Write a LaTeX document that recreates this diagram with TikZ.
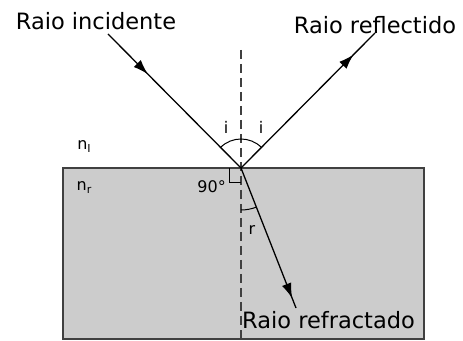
\documentclass[tikz,border=0pt]{standalone}
\usepackage{fontspec}
\setmainfont{DejaVu Sans}
\usepackage{xcolor}
\usepackage{tikz}
\usetikzlibrary{positioning,arrows.meta,calc,decorations.markings}

\definecolor{blockgray}{HTML}{CCCCCC}
\definecolor{edgegray}{HTML}{404040}

\newcommand{\idx}[2]{#1\raisebox{-3pt}{\fontsize{11}{12}\selectfont #2}}

\tikzset{
  ray/.style={line width=1.3pt, black},
  midarrow/.style={postaction={decorate},
    decoration={markings, mark=at position #1 with {\arrow{Latex[length=15pt,width=10pt]}}}},
  normalline/.style={line width=1.3pt, edgegray, dash pattern=on 9pt off 5pt},
  biglabel/.style={font=\fontsize{22.5}{25}\selectfont, inner sep=0pt},
  smalllabel/.style={font=\fontsize{16}{18}\selectfont, inner sep=0pt},
}

\begin{document}
\begin{tikzpicture}[x=1pt, y=1pt]
\useasboundingbox (0,0) rectangle (463,340);

% medium r
\draw[edgegray, line width=1.6pt, fill=blockgray] (63,1) rectangle (424,172);

\coordinate (O) at (241,172);
\coordinate (inc) at (108,306);
\coordinate (refl) at (375,307);
\coordinate (refr) at (296,32);
\coordinate (ntop) at (241,290);
\coordinate (nbot) at (241,1);

\draw[normalline] (ntop) -- (nbot);

\draw[ray, midarrow=0.3] (inc) -- (O);
\draw[ray, midarrow=0.84] (O) -- (refl);
\draw[ray, midarrow=0.93] (O) -- (refr);

% angles
\draw[line width=1pt] ($(O)+(45:29)$) arc[start angle=45, end angle=135, radius=29];
\draw[line width=1pt] ($(O)+(270:42)$) arc[start angle=270, end angle=291, radius=42];
\draw[line width=1pt] (O) ++(-12,0) -- ++(0,-15) -- ++(12,0);

\node[biglabel] (lblinc) at (96,319) {Raio incidente};
\node[biglabel] (lblrefl) at (375,315) {Raio reflectido};
\node[biglabel, anchor=west] (lblrefr) at (242,20) {Raio refractado};

\node[smalllabel] (ileft) at (226,213) {i};
\node[smalllabel] (iright) at (261,213) {i};
\node[smalllabel] (rlabel) at (252,110) {r};
\node[smalllabel, anchor=east] (right) at (226,153) {90°};
\node[smalllabel] (nI) at (84,193) {\idx{n}{I}};
\node[smalllabel] (nr) at (84,152) {\idx{n}{r}};
\end{tikzpicture}
\end{document}
